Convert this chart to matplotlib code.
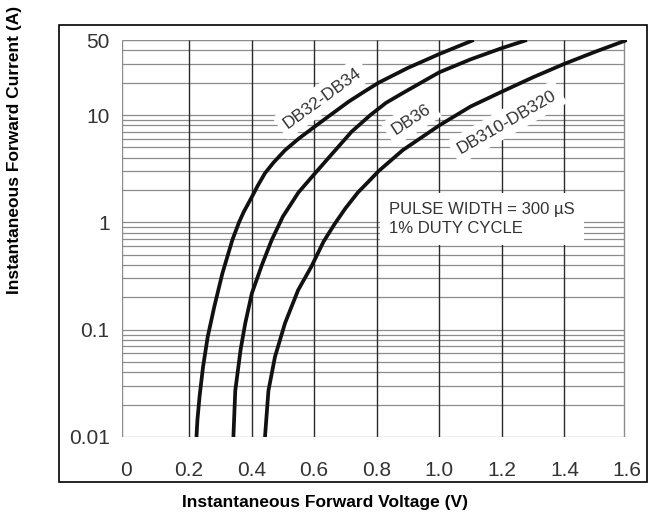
import numpy as np
import matplotlib.pyplot as plt
from matplotlib.patches import Rectangle

plt.rcParams['font.family'] = ['Liberation Sans', 'DejaVu Sans']

# forward voltage (V) vs forward current (A)
db32_v = [0.224, 0.227, 0.234, 0.245, 0.260, 0.281, 0.307, 0.339, 0.36, 0.375,
          0.396, 0.42, 0.443, 0.47, 0.507, 0.55, 0.602, 0.65, 0.71, 0.76,
          0.806, 0.90, 1.0, 1.11]
db32_i = [0.01, 0.0144, 0.024, 0.045, 0.086, 0.164, 0.336, 0.69, 1.0, 1.25,
          1.62, 2.2, 2.87, 3.6, 4.7, 6.0, 7.8, 9.9, 13.3, 16.5,
          20, 27.5, 37, 50]

db36_v = [0.342, 0.348, 0.365, 0.38, 0.401, 0.433, 0.464, 0.50, 0.55, 0.60,
          0.656, 0.72, 0.78, 0.83, 0.883, 1.0, 1.1, 1.2, 1.28]
db36_i = [0.01, 0.027, 0.065, 0.115, 0.218, 0.40, 0.68, 1.13, 1.9, 2.8,
          4.3, 7.0, 10.0, 13, 16, 25, 33, 42, 50]

db310_v = [0.443, 0.454, 0.475, 0.507, 0.549, 0.591, 0.63, 0.665, 0.70, 0.74,
           0.774, 0.806, 0.883, 1.0, 1.1, 1.2, 1.3, 1.4, 1.5, 1.6]
db310_i = [0.01, 0.027, 0.056, 0.115, 0.234, 0.386, 0.66, 0.96, 1.35, 1.9,
           2.4, 3.0, 4.7, 8.0, 12, 16.5, 22.5, 30, 39, 50]

x_ticks = [0, 0.2, 0.4, 0.6, 0.8, 1.0, 1.2, 1.4, 1.6]
x_labels = ['0', '0.2', '0.4', '0.6', '0.8', '1.0', '1.2', '1.4', '1.6']
y_ticks = [0.01, 0.1, 1, 10, 50]
y_labels = ['0.01', '0.1', '1', '10', '50']

W, H = 654, 514
fig = plt.figure(figsize=(W / 100, H / 100), dpi=100)
ax = fig.add_axes([122 / W, (H - 437) / H, (627 - 122) / W, (437 - 40) / H])
ax.set_yscale('log')
x_lo, x_hi = -0.014, 1.6
ax.set_xlim(x_lo, x_hi)
ax.set_ylim(0.01, 50)
for s in ax.spines.values():
    s.set_visible(False)

grid_right = 1.589

# log grid: gray horizontal lines
hlines = []
for dec in [0.01, 0.1, 1, 10]:
    for k in range(1, 10):
        v = k * dec
        if v <= 50:
            hlines.append(v)
hlines.append(50)
ax.hlines(hlines, x_lo, grid_right, color='#8c8c8c', lw=0.9, zorder=1)

# vertical lines, darker
ax.vlines(x_ticks[1:-1], 0.01, 50, color='#2a2a2a', lw=1.0, zorder=1.5)
ax.vlines([x_lo, grid_right], 0.01, 50, color='#8c8c8c', lw=1.0, zorder=1.5)

ax.set_xticks(x_ticks)
ax.set_xticklabels(x_labels)
ax.set_yticks(y_ticks)
ax.set_yticklabels(y_labels)
ax.minorticks_off()
ax.tick_params(axis='both', length=0, labelsize=15, labelcolor='#333333')
ax.tick_params(axis='x', pad=17)
ax.tick_params(axis='y', pad=9)

for v, i in [(db32_v, db32_i), (db36_v, db36_i), (db310_v, db310_i)]:
    ax.plot(v, i, color='#111111', lw=2.7, solid_capstyle='butt',
            solid_joinstyle='round', zorder=5)

box = dict(boxstyle='square,pad=0.35', fc='white', ec='none')
ax.text(0.626, 14.4, 'DB32-DB34', rotation=36, ha='center', va='center',
        fontsize=12.5, color='#333333', bbox=box, zorder=3)
ax.text(0.91, 9.0, 'DB36', rotation=33, ha='center', va='center',
        fontsize=12.5, color='#333333', bbox=box, zorder=3)
ax.text(1.216, 8.6, 'DB310-DB320', rotation=30, ha='center', va='center',
        fontsize=12.5, color='#333333', bbox=box, zorder=3)
ax.text(0.84, 1.08, 'PULSE WIDTH = 300 µS\n1% DUTY CYCLE', ha='left', va='center',
        fontsize=12, color='#333333', linespacing=1.3,
        bbox=dict(boxstyle='square,pad=0.55', fc='white', ec='none'), zorder=3)

fig.text(15 / W, 1 - 150 / H, 'Instantaneous Forward Current (A)', rotation=90,
         ha='center', va='center', fontsize=12.5, fontweight='bold')
fig.text(325 / W, 1 - 502 / H, 'Instantaneous Forward Voltage (V)',
         ha='center', va='center', fontsize=12.5, fontweight='bold')

fig.patches.append(Rectangle((59 / W, 1 - 482 / H), (647 - 59) / W, (482 - 25) / H,
                             transform=fig.transFigure, fill=False,
                             ec='black', lw=1.2))

fig.savefig('out.png', dpi=100)
